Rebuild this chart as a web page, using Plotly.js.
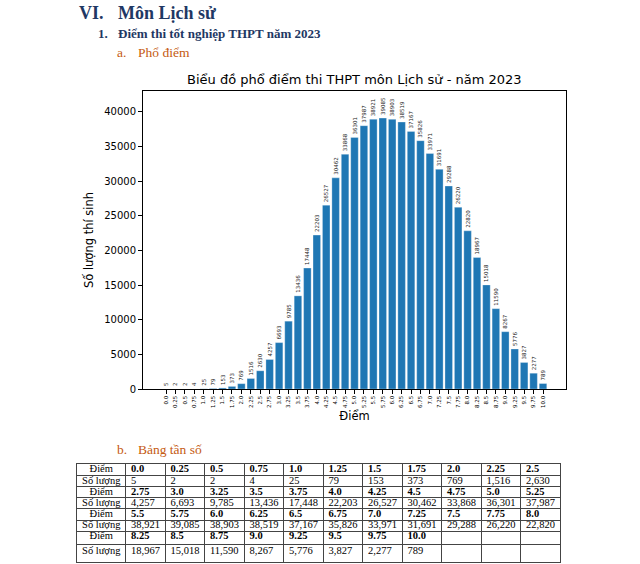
<!DOCTYPE html>
<html><head><meta charset="utf-8">
<script src="https://cdn.plot.ly/plotly-3.0.1.min.js"></script>
<style>html,body{margin:0;padding:0;background:#fff}#chart{width:640px;height:564px}</style>
</head><body><div id="chart"></div>
<script>
var scores = ['0.0','0.25','0.5','0.75','1.0','1.25','1.5','1.75','2.0','2.25','2.5','2.75','3.0','3.25','3.5','3.75','4.0','4.25','4.5','4.75','5.0','5.25','5.5','5.75','6.0','6.25','6.5','6.75','7.0','7.25','7.5','7.75','8.0','8.25','8.5','8.75','9.0','9.25','9.5','9.75','10.0'];
var counts = [5,2,2,4,25,79,153,373,769,1516,2630,4257,6693,9785,13436,17448,22203,26527,30462,33868,36301,37987,38921,39085,38903,38519,37167,35826,33971,31691,29288,26220,22820,18967,15018,11590,8267,5776,3827,2277,789];
var chartTitle = 'Biểu đồ phổ điểm thi THPT môn Lịch sử - năm 2023';
var xTitle = 'Điểm';
var yTitle = 'Số lượng thí sinh';
var rowLabelScore = 'Điểm';
var rowLabelCount = 'Số lượng';
var perRow = 11;

var W = 640, H = 564;
function px(x){return x/W;}
function py(y){return 1 - y/H;}

var bar = {
  type:'bar', x:scores, y:counts,
  text: counts.map(String), textposition:'outside', textangle:-90,
  textfont:{family:'DejaVu Sans', size:5.5, color:'#222'},
  constraintext:'none', cliponaxis:false,
  marker:{color:'#1f77b4', line:{color:'#ffffff', width:0.3}},
  hoverinfo:'none', xaxis:'x', yaxis:'y'
};

// ---- table geometry (layout, in table-axis units = px) ----
var firstColW = 48.5, colW = 39.5, cellPad = 5.5;
var rowH = [11.5, 11, 11, 11, 11.5, 11, 13.5, 17.5];
var nBlocks = Math.ceil(scores.length/perRow);
var colEdges = [0, firstColW];
for (var c=1;c<=perRow;c++) colEdges.push(firstColW + c*colW);
var rowEdges = [0];
for (var r=0;r<rowH.length;r++) rowEdges.push(rowEdges[r]+rowH[r]);
function rowTextY(r){
  var h = rowH[r];
  return rowEdges[r] + (h<=12 ? h/2 : 5.5 + (h-13.5)*0.4);
}
var fmt = function(v){return v.toLocaleString('en-US');};

var lblX=[],lblY=[],lblT=[], scX=[],scY=[],scT=[], ctX=[],ctY=[],ctT=[];
for (var b=0;b<nBlocks;b++){
  var rS = 2*b, rC = 2*b+1;
  lblX.push(firstColW/2, firstColW/2); lblY.push(rowTextY(rS), rowTextY(rC));
  lblT.push(rowLabelScore, rowLabelCount);
  for (var j=0;j<perRow;j++){
    var idx = b*perRow + j;
    if (idx >= scores.length) continue;
    var xl = colEdges[j+1] + cellPad;
    scX.push(xl); scY.push(rowTextY(rS)); scT.push(scores[idx]);
    ctX.push(xl); ctY.push(rowTextY(rC)); ctT.push(fmt(counts[idx]));
  }
}
var tFont = {family:'Liberation Serif', size:10.5, color:'#000'};
var tLabels = {type:'scatter', mode:'text', x:lblX, y:lblY, text:lblT, textposition:'middle center',
  textfont:tFont, xaxis:'x2', yaxis:'y2', hoverinfo:'none', cliponaxis:false};
var tScores = {type:'scatter', mode:'text', x:scX, y:scY, text:scT, textposition:'middle right',
  textfont:{family:'Liberation Serif', size:10.5, color:'#000', weight:'bold'}, xaxis:'x2', yaxis:'y2', hoverinfo:'none', cliponaxis:false};
var tCounts = {type:'scatter', mode:'text', x:ctX, y:ctY, text:ctT, textposition:'middle right',
  textfont:tFont, xaxis:'x2', yaxis:'y2', hoverinfo:'none', cliponaxis:false};

var navy='#1F3864', orange='#C55A11';
function ann(t,x,y,size,color,bold){
  return {text:bold?'<b>'+t+'</b>':t, x:px(x), y:py(y), xref:'paper', yref:'paper',
    xanchor:'left', yanchor:'middle', showarrow:false,
    font:{family:'Liberation Serif', size:size, color:color}};
}
var annotations=[
  ann('VI.',77,13,18,navy,true), ann('Môn Lịch sử',116,13,18,navy,true),
  ann('1.',96,33,13,navy,true), ann('Điểm thi tốt nghiệp THPT năm 2023',116,33,13,navy,true),
  ann('a.',115,52,13.5,orange,false), ann('Phổ điểm',136,52,13.5,orange,false),
  ann('b.',115,449,13.5,orange,false), ann('Bảng tần số',136,449,13.5,orange,false),
  {text:chartTitle, x:px(354), y:py(80), xref:'paper', yref:'paper', xanchor:'center', yanchor:'middle',
   showarrow:false, font:{family:'DejaVu Sans', size:13, color:'#000'}}
];

var tableTop = 464;
var tableLeft = 77;
var layout = {
  width:W, height:H, margin:{l:0,r:0,t:0,b:0}, paper_bgcolor:'#fff', plot_bgcolor:'rgba(0,0,0,0)',
  showlegend:false, bargap:0.2,
  xaxis:{domain:[px(143),px(566)], anchor:'y', type:'category', range:[-2.44,42.44],
    showline:true, mirror:true, linecolor:'#000', linewidth:1, ticks:'outside', ticklen:3.5, tickcolor:'#000',
    tickangle:-90, tickfont:{family:'DejaVu Sans', size:5.5, color:'#000'}, showgrid:false, zeroline:false,
    title:{text:xTitle, font:{family:'DejaVu Sans', size:11.5, color:'#000'}, standoff:4}},
  yaxis:{domain:[py(389),py(91)], anchor:'x', range:[0,42994],
    showline:true, mirror:true, linecolor:'#000', linewidth:1, ticks:'outside', ticklen:4, tickcolor:'#000',
    tickvals:[0,5000,10000,15000,20000,25000,30000,35000,40000], tickformat:'d',
    tickfont:{family:'DejaVu Sans', size:10, color:'#000'}, showgrid:false, zeroline:false,
    title:{text:yTitle, font:{family:'DejaVu Sans', size:11.5, color:'#000'}, standoff:8}},
  xaxis2:{domain:[px(tableLeft),px(tableLeft+colEdges[colEdges.length-1])], anchor:'y2',
    range:[0,colEdges[colEdges.length-1]], tickvals:colEdges, showticklabels:false, ticks:'',
    showgrid:true, gridcolor:'#444', gridwidth:1, zeroline:false,
    showline:true, mirror:true, linecolor:'#444', linewidth:1.2, fixedrange:true},
  yaxis2:{domain:[py(tableTop+rowEdges[rowEdges.length-1]),py(tableTop)], anchor:'x2',
    range:[rowEdges[rowEdges.length-1],0], tickvals:rowEdges, showticklabels:false, ticks:'',
    showgrid:true, gridcolor:'#444', gridwidth:1, zeroline:false,
    showline:true, mirror:true, linecolor:'#444', linewidth:1.2, fixedrange:true},
  annotations:annotations
};
Plotly.newPlot('chart',[bar,tLabels,tScores,tCounts],layout,{displayModeBar:false, staticPlot:true});
</script></body></html>
